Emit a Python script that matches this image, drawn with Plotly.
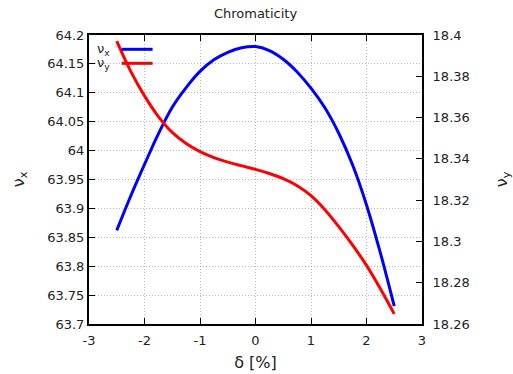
import plotly.graph_objects as go

delta = [-2.5, -2.25, -2.0, -1.75, -1.5, -1.25, -1.0, -0.75, -0.5, -0.25, 0.0,
         0.25, 0.5, 0.75, 1.0, 1.25, 1.5, 1.75, 2.0, 2.25, 2.5]
nu_x = [63.862, 63.921, 63.976, 64.029, 64.075, 64.109, 64.137, 64.157, 64.170, 64.178, 64.180,
        64.173, 64.158, 64.136, 64.108, 64.074, 64.030, 63.975, 63.906, 63.823, 63.731]
nu_y = [18.397, 18.3825, 18.3705, 18.3605, 18.3528, 18.3474, 18.3435, 18.3406, 18.3384, 18.3366, 18.3349,
        18.3329, 18.3304, 18.3270, 18.3222, 18.3154, 18.3072, 18.2982, 18.2884, 18.2771, 18.2649]

x_ticks = [-3, -2, -1, 0, 1, 2, 3]
x_text = ["-3", "-2", "-1", "0", "1", "2", "3"]
y1_ticks = [63.7, 63.75, 63.8, 63.85, 63.9, 63.95, 64.0, 64.05, 64.1, 64.15, 64.2]
y1_text = ["63.7", "63.75", "63.8", "63.85", "63.9", "63.95", "64", "64.05", "64.1", "64.15", "64.2"]
y2_ticks = [18.26, 18.28, 18.30, 18.32, 18.34, 18.36, 18.38, 18.40]
y2_text = ["18.26", "18.28", "18.3", "18.32", "18.34", "18.36", "18.38", "18.4"]

FONT = "DejaVu Sans"
TXT = "#222222"

fig = go.Figure()
fig.add_trace(go.Scatter(x=delta, y=nu_x, mode="lines", name="ν<sub>x</sub>",
                         line=dict(color="#0000ff", width=3, shape="spline"), yaxis="y"))
fig.add_trace(go.Scatter(x=delta, y=nu_y, mode="lines", name="ν<sub>y</sub>",
                         line=dict(color="#ff0000", width=3, shape="spline"), yaxis="y2"))

grid = dict(showgrid=True, gridcolor="#b8b8b8", griddash="1px,2px", gridwidth=1)

fig.update_layout(
    width=513, height=374,
    margin=dict(l=89, r=90.5, t=35, b=50, autoexpand=False),
    paper_bgcolor="white", plot_bgcolor="white",
    font=dict(family=FONT, size=13, color=TXT),
    showlegend=False,
    title=dict(text="Chromaticity", x=0.5, xref="paper", xanchor="center",
               y=1 - 13.5 / 374, yanchor="middle", font=dict(size=13, color=TXT)),
    xaxis=dict(range=[-3, 3], tickvals=x_ticks, ticktext=x_text, ticks="inside", ticklen=6,
               tickcolor="black", showline=True, linecolor="black", linewidth=2,
               mirror="ticks", zeroline=False, ticklabelstandoff=3, automargin=False,
               title=dict(text="δ [%]", standoff=10), **grid),
    yaxis=dict(range=[63.7, 64.2], tickvals=y1_ticks, ticktext=y1_text, ticks="inside",
               ticklen=6, tickcolor="black", showline=True, linecolor="black", linewidth=2,
               zeroline=False, automargin=False,
               title=dict(text="ν<sub>x</sub>", standoff=19), **grid),
    yaxis2=dict(range=[18.26, 18.40], tickvals=y2_ticks, ticktext=y2_text, overlaying="y",
                side="right", ticks="inside", ticklen=6, tickcolor="black", showline=True,
                linecolor="black", linewidth=2, showgrid=False, zeroline=False,
                ticklabelstandoff=6, automargin=False,
                title=dict(text="ν<sub>y</sub>", standoff=29)),
)

# gnuplot-style key: label on the left, line sample on the right
key = [("ν<sub>x</sub>", "#0000ff", 0.9505), ("ν<sub>y</sub>", "#ff0000", 0.902)]
for label, color, yk in key:
    fig.add_annotation(text=label, xref="paper", yref="paper", x=0.068, y=yk,
                       xanchor="right", yanchor="middle", showarrow=False,
                       font=dict(size=13, color=TXT))
    fig.add_shape(type="line", xref="paper", yref="paper", x0=0.098, x1=0.191,
                  y0=yk, y1=yk, line=dict(color=color, width=3))

fig.write_html("out.html")
